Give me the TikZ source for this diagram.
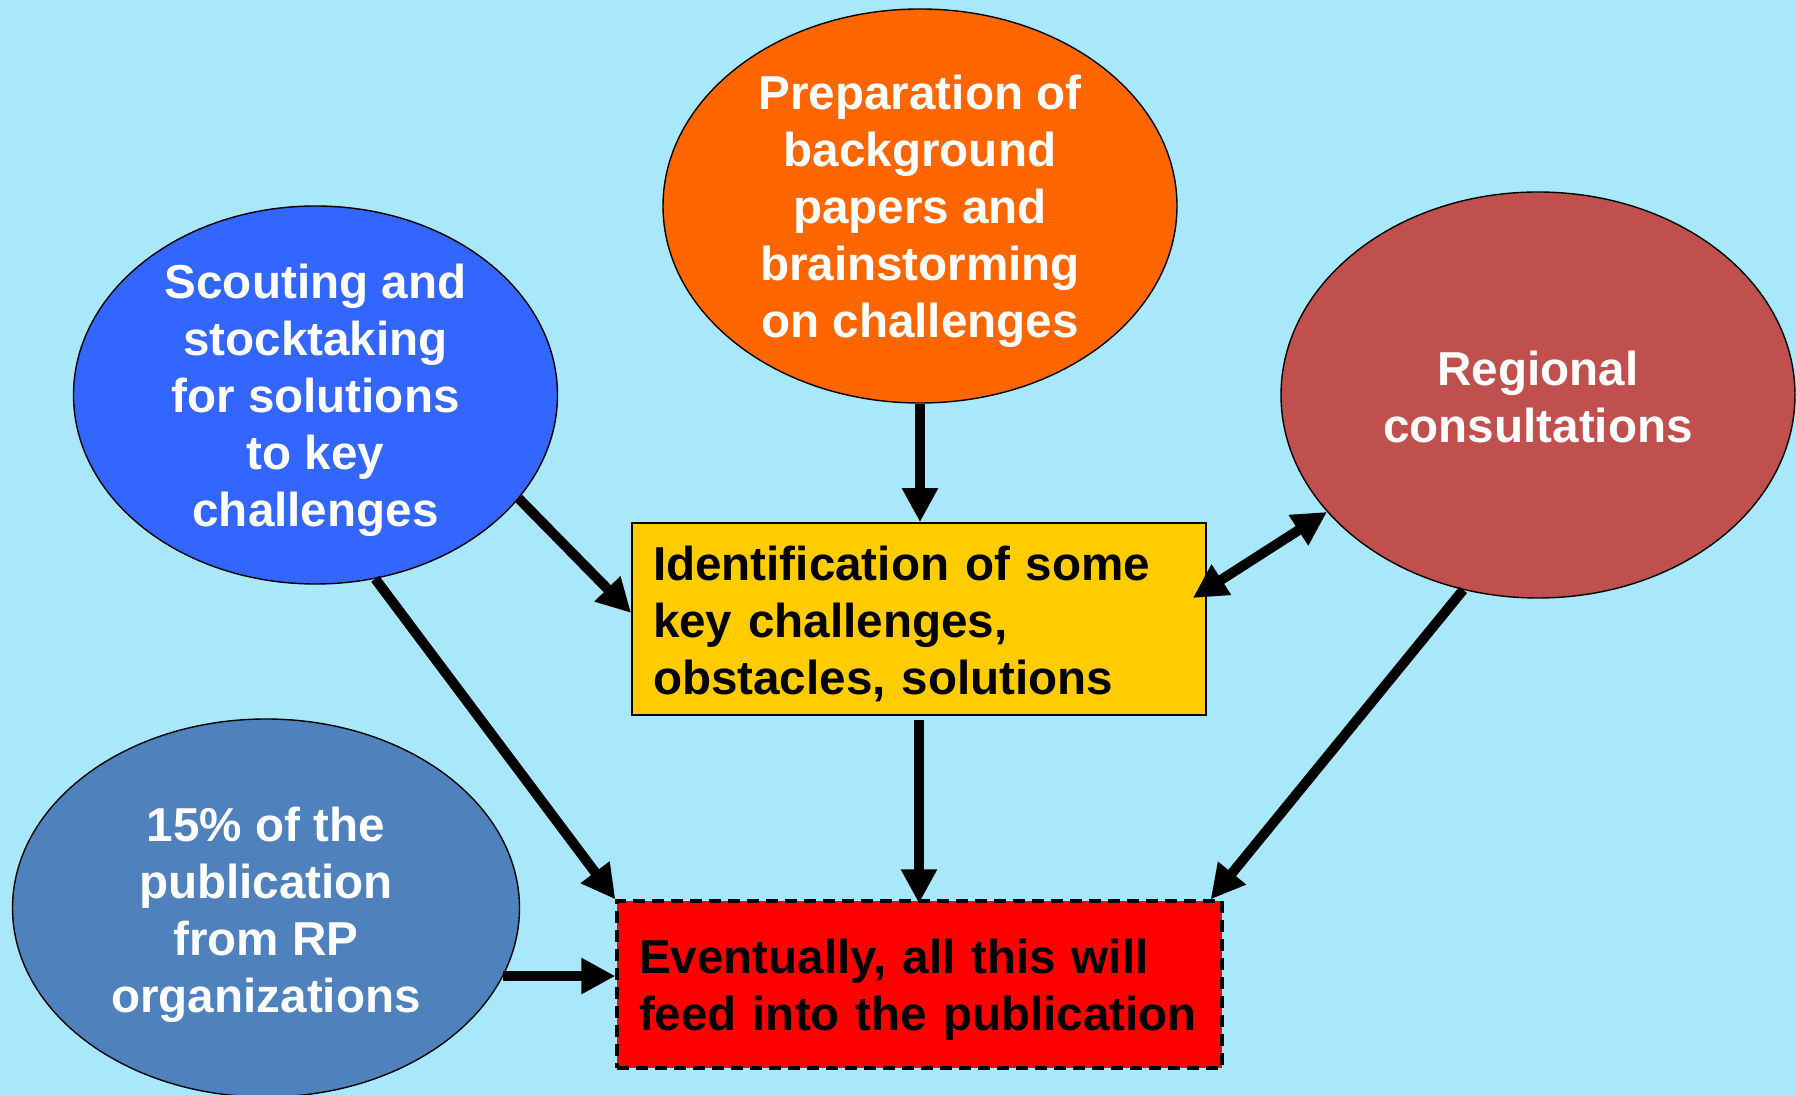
\documentclass[tikz,border=0pt]{standalone}
\usepackage{fontspec}
\setmainfont{Liberation Sans}
\usetikzlibrary{shapes.geometric,arrows.meta,calc}
\definecolor{bgc}{HTML}{A9E8FA}
\definecolor{orangec}{HTML}{FF6600}
\definecolor{scoutc}{HTML}{3366FF}
\definecolor{regc}{HTML}{C0504D}
\definecolor{pctc}{HTML}{4F81BD}
\definecolor{yelc}{HTML}{FFCC00}
\definecolor{redc}{HTML}{FF0000}
\tikzset{
  blob/.style={ellipse, draw=black, line width=0.7pt, inner sep=0pt},
  wtext/.style={text=white, align=center, inner sep=0pt,
    font=\fontsize{23.8pt}{28.5pt}\selectfont\bfseries},
  boxtext/.style={text=black, align=left, inner sep=0pt,
    font=\fontsize{23.8pt}{28.5pt}\selectfont\bfseries},
  conn/.style={line width=5pt, -{Triangle[length=17pt,width=17pt]}},
  bconn/.style={line width=5pt, {Triangle[length=17pt,width=17pt]}-{Triangle[length=17pt,width=17pt]}}
}
\begin{document}
\begin{tikzpicture}[x=0.5pt,y=-0.5pt]
\fill[bgc] (0,0) rectangle (1796,1095);
\useasboundingbox (0,0) rectangle (1796,1095);

% ellipses
\node[blob, fill=orangec, minimum width=257pt, minimum height=197pt] (orange) at (920,206) {};
\node[wtext] (orangeT) at ([yshift=-2.5pt]orange.center) {Preparation of\\background\\papers and\\brainstorming\\on challenges};

\node[blob, fill=scoutc, minimum width=242pt, minimum height=189pt] (scout) at (315.5,395) {};
\node[wtext] (scoutT) at ([yshift=-2.5pt]scout.center) {Scouting and\\stocktaking\\for solutions\\to key\\challenges};

\node[blob, fill=regc, minimum width=257pt, minimum height=203pt] (region) at (1538,395) {};
\node[wtext] (regionT) at ([yshift=-1pt]region.center) {Regional\\consultations};

\node[blob, fill=pctc, minimum width=253.5pt, minimum height=189pt] (pct) at (266,908) {};
\node[wtext] (pctT) at ([yshift=-3.5pt]pct.center) {15\% of the\\publication\\from RP\\organizations};

% boxes
\node[draw=black, line width=0.8pt, fill=yelc, minimum width=287pt, minimum height=96pt, inner sep=0pt] (ident) at (919,619) {};
\node[boxtext, text width=266pt] (identT) at ([yshift=-2.5pt]ident.center)
  {Identification of some\\key challenges,\\obstacles, solutions};

\node[draw=black, line width=1.6pt, dash pattern=on 6pt off 3.5pt, fill=redc,
      minimum width=302.5pt, minimum height=83.5pt, inner sep=0pt] (pub) at (919.5,984.5) {};
\node[boxtext, text width=280.5pt] (pubT) at ([shift={(0pt,-2.5pt)}]pub.center)
  {Eventually, all this will\\feed into the publication};

% connectors
\draw[conn] (orange.south) -- (orange.south |- ident.north);
\draw[conn] (scout.-27) -- ([yshift=3pt]ident.west);
\draw[conn] (scout.-72) -- (pub.north west);
\draw[conn] ([yshift=-2pt]ident.south) -- ([yshift=-2pt]ident.south |- pub.north);
\draw[bconn] ([shift={(-7pt,10.5pt)}]ident.east) -- (region.-151.5);
\draw[conn] (region.-111) -- ([xshift=-6.5pt]pub.north east);
\draw[conn] (pct.-16) -- (pct.-16 -| pub.west);
\end{tikzpicture}
\end{document}
